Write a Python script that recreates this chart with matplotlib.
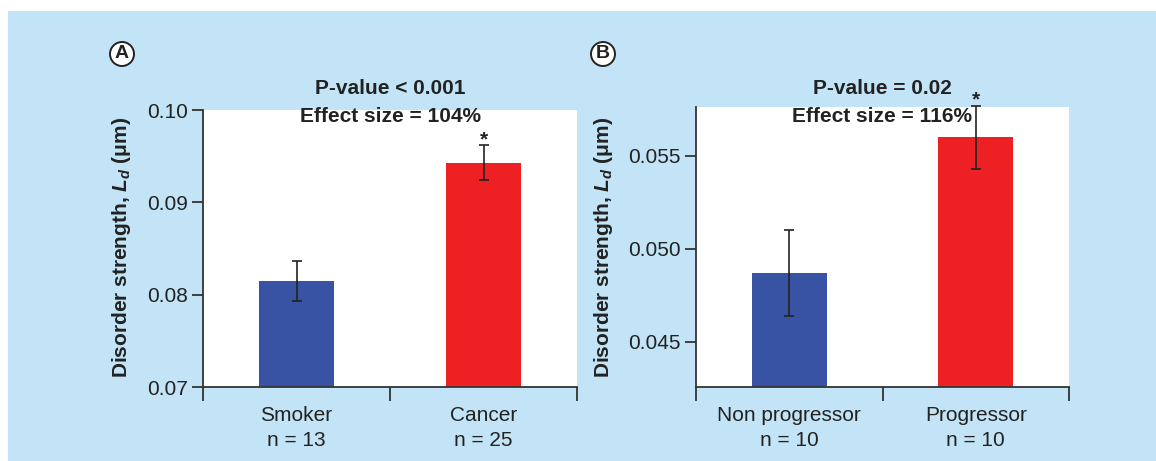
"""
Disorder strength (L_d) の2パネル棒グラフ。
A: Smoker vs Cancer, B: Non progressor vs Progressor。
"""

import matplotlib
matplotlib.use("Agg")
import matplotlib.pyplot as plt
from matplotlib.patches import Rectangle

plt.rcParams["font.family"] = ["Liberation Sans", "DejaVu Sans"]
plt.rcParams["mathtext.fontset"] = "custom"
plt.rcParams["mathtext.it"] = "Liberation Sans:bold:italic"
plt.rcParams["mathtext.rm"] = "Liberation Sans:bold"
plt.rcParams["mathtext.bf"] = "Liberation Sans:bold"

# --- データ ---
labels_a = ["Smoker\nn = 13", "Cancer\nn = 25"]
means_a = [0.0815, 0.0943]
errs_a = [0.0022, 0.0019]
title_a = ["P-value < 0.001", "Effect size = 104%"]

labels_b = ["Non progressor\nn = 10", "Progressor\nn = 10"]
means_b = [0.0487, 0.0560]
errs_b = [0.0023, 0.0017]
title_b = ["P-value = 0.02", "Effect size = 116%"]

BLUE = "#3953A4"
RED = "#ED2024"
BG = "#C3E4F6"
DARK = "#333333"

W, H = 1156, 461
fig = plt.figure(figsize=(W / 100, H / 100), dpi=100, facecolor="white")
fig.patches.append(Rectangle((8 / W, 0), 1 - 8 / W, 1 - 11 / H,
                             transform=fig.transFigure, facecolor=BG,
                             edgecolor="none", zorder=-10))


def px_axes(x0, y0, x1, y1):
    """ピクセル座標(左上原点)で軸を置く。"""
    return fig.add_axes([x0 / W, 1 - y1 / H, (x1 - x0) / W, (y1 - y0) / H])


def draw_panel(ax, labels, means, errs, ylim, yticks, fmt):
    xs = [0.5, 1.5]
    ax.bar(xs, means, width=0.4, color=[BLUE, RED], zorder=2)
    eb = ax.errorbar(xs, means, yerr=errs, fmt="none", ecolor="#222222",
                     elinewidth=1.2, capsize=3.5, capthick=1.2, zorder=3)
    for art in eb.lines[1] + eb.lines[2]:
        art.set_clip_on(False)
    # 有意差の印は2本目の棒の上
    ax.annotate("*", (xs[1], means[1] + errs[1]), xytext=(0, -3),
                textcoords="offset points", ha="center", va="bottom",
                fontsize=15, fontweight="bold", color="#222222",
                annotation_clip=False)
    ax.set_xlim(0, 2)
    ax.set_ylim(*ylim)
    ax.set_yticks(yticks)
    ax.set_yticklabels([fmt.format(t) for t in yticks])
    ax.set_xticks([0, 1, 2])
    ax.set_xticklabels([])
    ax.set_xticks(xs, minor=True)
    ax.set_xticklabels(labels, minor=True, linespacing=1.35)
    ax.tick_params(axis="x", which="major", length=10, width=1.3, color=DARK)
    ax.tick_params(axis="x", which="minor", length=0, pad=14, labelsize=15,
                   labelcolor="#222222")
    ax.tick_params(axis="y", length=8, width=1.3, color=DARK, labelsize=15,
                   labelcolor="#222222", pad=3)
    ax.spines["top"].set_visible(False)
    ax.spines["right"].set_visible(False)
    for s in ("left", "bottom"):
        ax.spines[s].set_color(DARK)
        ax.spines[s].set_linewidth(1.3)
    ax.set_facecolor("white")


ax_a = px_axes(203, 110, 577, 387)
draw_panel(ax_a, labels_a, means_a, errs_a, (0.07, 0.10),
           [0.07, 0.08, 0.09, 0.10], "{:.2f}")

ax_b = px_axes(696, 107, 1069, 387)
draw_panel(ax_b, labels_b, means_b, errs_b, (0.04258, 0.05763),
           [0.045, 0.050, 0.055], "{:.3f}")

ylabel = r"Disorder strength, $L_d$ (μm)"
for xpx, letter, tt, xc in [(122, "A", title_a, 390), (603, "B", title_b, 882)]:
    fig.text(xpx / W, 1 - 247 / H, ylabel, rotation=90, ha="center", va="center",
             fontsize=15, fontweight="bold", color="#222222")
    fig.text(xpx / W, 1 - 54 / H, letter, ha="center", va="center", fontsize=14,
             fontweight="bold", color="#222222",
             bbox=dict(boxstyle="circle,pad=0.18", facecolor="white",
                       edgecolor="#222222", linewidth=1.4))
    fig.text(xc / W, 1 - 89 / H, tt[0], ha="center", va="center", fontsize=15,
             fontweight="bold", color="#222222")
    fig.text(xc / W, 1 - 116 / H, tt[1], ha="center", va="center", fontsize=15,
             fontweight="bold", color="#222222")

fig.savefig("out.png", dpi=100, facecolor="white")
